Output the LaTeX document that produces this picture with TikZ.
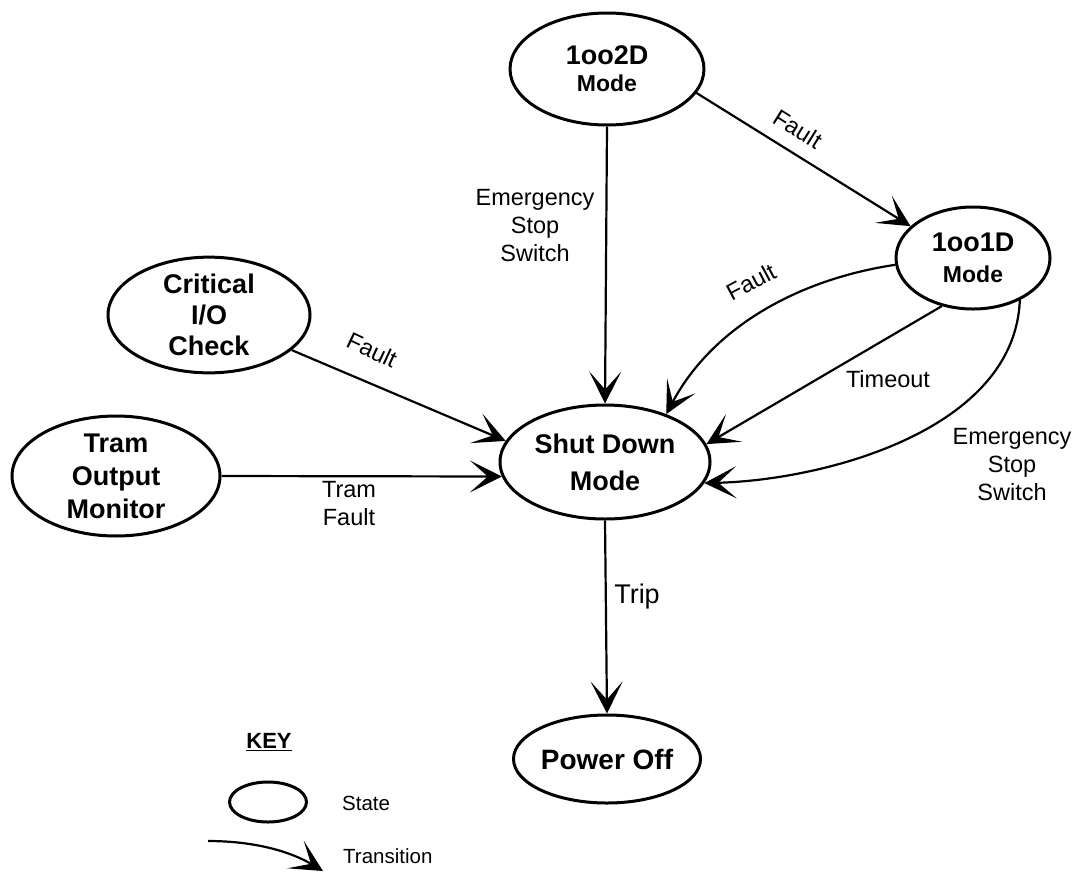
\documentclass[tikz,border=0pt]{standalone}
\usepackage{fontspec}
\setmainfont{Liberation Sans}
\usetikzlibrary{arrows.meta,shapes.geometric}
\begin{document}
\begin{tikzpicture}[x=1pt,y=-1pt,
  state/.style={draw, ellipse, line width=3pt, inner sep=0pt, align=center,
    font=\bfseries\fontsize{27}{31}\selectfont},
  tr/.style={line width=2.2pt, -{Stealth[length=32pt,width=32pt,inset=18pt]}},
  lbl/.style={font=\fontsize{23.5}{28}\selectfont, align=center, inner sep=0pt},
  keytxt/.style={font=\fontsize{20.5}{24}\selectfont, anchor=west, inner sep=0pt}]
\useasboundingbox (0,0) rectangle (1075,871);

% states
\node[state, minimum width=194pt, minimum height=112pt] (oo2d) at (607,69)
  {1oo2D\\[-4pt]{\fontsize{23}{27}\selectfont Mode}};
\node[state, minimum width=154pt, minimum height=102pt] (oo1d) at (973,258)
  {1oo1D\\[0pt]{\fontsize{23}{27}\selectfont Mode}};
\node[state, minimum width=202pt, minimum height=114pt] (crit) at (209,315)
  {Critical\\I/O\\Check};
\node[state, minimum width=208pt, minimum height=110pt,
  font=\bfseries\fontsize{27}{33}\selectfont] (tram) at (116,476)
  {Tram\\Output\\Monitor};
\node[state, minimum width=210pt, minimum height=114pt,
  font=\bfseries\fontsize{27}{37}\selectfont] (sd) at (605,462)
  {Shut Down\\Mode};
\node[state, minimum width=171pt, minimum height=88pt,
  font=\bfseries\fontsize{28}{32}\selectfont] (pwr) at (607,759)
  {Power Off};

% transitions
\draw[tr] (oo2d.south) -- (sd.north);
\draw[tr] (oo2d.-15) -- (oo1d.153);
\draw[tr] (oo1d.185) .. controls +(-100,15) and +(45,-85) .. (sd.38);
\draw[tr] (oo1d.237) -- (sd.10);
\draw[tr] (oo1d.-42) .. controls +(-5,130) and +(120,-3) .. (sd.-12);
\draw[tr] (crit) -- (sd.168);
\draw[tr] (tram.east) -- (sd.188);
\draw[tr] (sd.south) -- (pwr.north);

% labels
\node[lbl] (l1) at (535,226) {Emergency\\Stop\\Switch};
\node[lbl, rotate=-32] (l2) at (798,129) {Fault};
\node[lbl, rotate=28] (l3) at (751,282) {Fault};
\node[lbl] (l4) at (888,379) {Timeout};
\node[lbl] (l5) at (1012,465) {Emergency\\Stop\\Switch};
\node[lbl, rotate=-25] (l6) at (372,350) {Fault};
\node[lbl, anchor=north] (l7) at (349,481) {Tram\\Fault};
\node[lbl, font=\fontsize{27}{30}\selectfont] (l8) at (637,597) {Trip};

% key
\node[font=\bfseries\fontsize{22}{26}\selectfont, inner sep=0pt] (key) at (269,742) {\underline{KEY}};
\node[draw, ellipse, line width=3pt, minimum width=77pt, minimum height=40pt] (kstate) at (268,802) {};
\node[keytxt] (kst) at (342,803) {State};
\coordinate (k1) at (208,841);
\coordinate (k2) at (323,871);
\draw[tr] (k1) .. controls +(50,0) and +(-30,-18) .. (k2);
\node[keytxt] (ktr) at (343,856) {Transition};
\end{tikzpicture}
\end{document}
